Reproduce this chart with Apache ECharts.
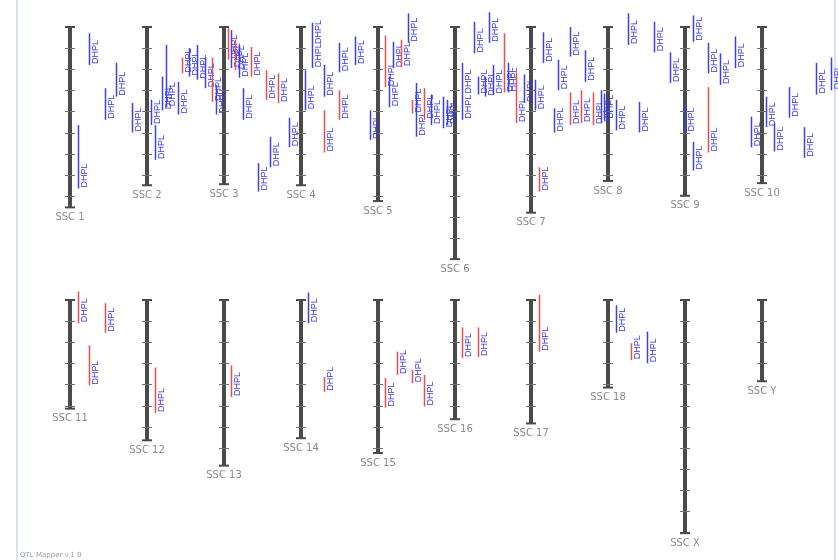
<!DOCTYPE html>
<html>
<head>
<meta charset="utf-8">
<title>DHPL QTL map</title>
<script src="https://cdn.jsdelivr.net/npm/echarts@6/dist/echarts.min.js"></script>
<style>
html, body { margin: 0; padding: 0; background: #fff; }
#qtl-map { width: 838px; height: 560px; }
</style>
</head>
<body>
<div id="qtl-map"></div>
<script>
// chromosomes (two rows of ten), lengths in cM
var chromNames = ['SSC 1', 'SSC 2', 'SSC 3', 'SSC 4', 'SSC 5', 'SSC 6', 'SSC 7', 'SSC 8', 'SSC 9', 'SSC 10',
    'SSC 11', 'SSC 12', 'SSC 13', 'SSC 14', 'SSC 15', 'SSC 16', 'SSC 17', 'SSC 18', 'SSC X', 'SSC Y'];
var chromLengths = [171, 150, 149, 150, 165, 220, 176, 146, 160, 148,
    103, 133, 157, 131, 145, 113, 117, 83, 221, 77];
var tickStep = 20;

// DHPL QTL: [chromosome, start cM, end cM, bar colour (B/R), track]
var qtlLabel = 'DHPL';
var qtlRows = [
    [0, 6, 36, 'B', 5], [0, 58, 88, 'B', 9], [0, 34, 66, 'B', 12], [0, 93, 153, 'B', 2], [0, 72, 100, 'B', 16],
    [1, 69, 93, 'B', 1], [1, 93, 126, 'B', 2], [1, 47, 79, 'B', 4], [1, 17, 76, 'B', 5], [1, 52, 83, 'B', 8],
    [1, 29, 44, 'R', 9], [1, 20, 47, 'B', 11], [1, 17, 50, 'B', 13], [1, 29, 58, 'B', 15], [1, 29, 71, 'R', 17],
    [1, 55, 83, 'B', 18],
    [2, 1, 31, 'R', 1], [2, 3, 39, 'B', 2], [2, 12, 41, 'R', 3], [2, 17, 48, 'B', 4], [2, 58, 88, 'B', 5],
    [2, 19, 47, 'R', 7], [2, 129, 156, 'B', 9], [2, 41, 69, 'R', 11], [2, 104, 133, 'B', 12], [2, 44, 72, 'R', 14],
    [2, 86, 114, 'B', 17],
    [3, 41, 79, 'B', 1], [3, -4, 17, 'B', 3], [3, 17, 39, 'B', 3], [3, 36, 66, 'B', 6], [3, 79, 119, 'R', 6],
    [3, 15, 43, 'B', 10], [3, 60, 88, 'R', 10], [3, 9, 36, 'B', 14], [3, 79, 107, 'B', 18],
    [4, 8, 57, 'R', 2], [4, 47, 76, 'B', 3], [4, 14, 39, 'B', 4], [4, 12, 38, 'R', 6], [4, -13, 15, 'B', 8],
    [4, 69, 82, 'R', 9], [4, 53, 104, 'B', 10], [4, 58, 88, 'R', 12], [4, 64, 93, 'B', 14], [4, 66, 96, 'B', 17],
    [4, 69, 93, 'B', 18],
    [5, 34, 64, 'B', 2], [5, 64, 88, 'B', 2], [5, -5, 25, 'B', 5], [5, 47, 64, 'B', 6], [5, 47, 66, 'B', 8],
    [5, -14, 15, 'B', 9], [5, 36, 64, 'B', 10], [5, 6, 62, 'R', 13], [5, 34, 62, 'B', 14], [5, 43, 91, 'R', 16],
    [5, 45, 72, 'B', 18],
    [6, 50, 79, 'B', 1], [6, 133, 156, 'R', 2], [6, 5, 34, 'B', 3], [6, 77, 100, 'B', 6], [6, 31, 60, 'B', 7],
    [6, 62, 93, 'R', 10], [6, 0, 28, 'B', 10], [6, 60, 91, 'R', 13], [6, 22, 52, 'B', 14], [6, 62, 93, 'R', 16],
    [6, 60, 91, 'B', 18], [6, 63, 88, 'B', 19],
    [7, 69, 98, 'B', 2], [7, -13, 17, 'B', 5], [7, 71, 100, 'B', 8], [7, -5, 24, 'B', 12], [7, 24, 53, 'B', 16],
    [8, 72, 100, 'B', 0], [8, -11, 14, 'B', 2], [8, 109, 136, 'B', 2], [8, 57, 119, 'R', 6], [8, 15, 44, 'B', 6],
    [8, 25, 55, 'B', 9], [8, 9, 39, 'B', 13], [8, 85, 114, 'B', 17],
    [9, 66, 95, 'B', 1], [9, 91, 118, 'B', 3], [9, 57, 86, 'B', 7], [9, 95, 124, 'B', 11], [9, 34, 64, 'B', 14],
    [9, 29, 60, 'B', 18],
    [10, -8, 22, 'R', 2], [10, 43, 81, 'R', 5], [10, 3, 31, 'R', 9],
    [11, 64, 107, 'R', 2],
    [12, 62, 92, 'R', 2],
    [13, -7, 22, 'B', 2], [13, 73, 87, 'R', 6],
    [14, 74, 102, 'R', 2], [14, 49, 71, 'R', 5], [14, 66, 79, 'R', 9], [14, 71, 101, 'R', 12],
    [15, 26, 55, 'R', 2], [15, 26, 54, 'R', 6],
    [16, -5, 49, 'R', 2],
    [17, 5, 31, 'B', 2], [17, 41, 57, 'R', 6], [17, 30, 60, 'B', 10]
];

var barColors = { B: '#3d3df2', R: '#f04a4a' };
var textBlue = '#3535ee';
var trackWidth = 0.05; // one track = 1/20 of the column spacing

function chromData(row) {
    var out = [];
    for (var i = row * 10; i < row * 10 + 10; i++) {
        out.push([i % 10, chromLengths[i], i]);
    }
    return out;
}

function qtlData(row) {
    var out = [];
    qtlRows.forEach(function (q) {
        if (Math.floor(q[0] / 10) === row) {
            out.push([q[0] % 10, q[1], q[2], q[3] === 'R' ? 1 : 0, q[4]]);
        }
    });
    return out;
}

function renderChrom(params, api) {
    var col = api.value(0);
    var len = api.value(1);
    var name = chromNames[api.value(2)];
    var top = api.coord([col, 0]);
    var bot = api.coord([col, len]);
    var x = Math.round(top[0]);
    var kids = [];
    kids.push({
        type: 'rect',
        shape: { x: x - 2, y: top[1], width: 4, height: bot[1] - top[1] },
        style: { fill: '#4a4a4a' }
    });
    for (var t = tickStep; t < len; t += tickStep) {
        var ty = Math.round(api.coord([col, t])[1]) + 0.5;
        kids.push({
            type: 'line',
            shape: { x1: x - 5, y1: ty, x2: x + 5, y2: ty },
            style: { stroke: '#707070', lineWidth: 1 }
        });
    }
    [top[1], bot[1]].forEach(function (cy) {
        kids.push({
            type: 'line',
            shape: { x1: x - 5, y1: cy, x2: x + 5, y2: cy },
            style: { stroke: '#4a4a4a', lineWidth: 2 }
        });
    });
    kids.push({
        type: 'text',
        x: x,
        y: bot[1] + 5,
        style: {
            text: name, fill: '#8a8a8a', font: '10px "DejaVu Sans"',
            align: 'center', verticalAlign: 'top'
        }
    });
    return { type: 'group', children: kids };
}

function renderQtl(params, api) {
    var xPos = api.value(0) + api.value(4) * trackWidth;
    var p1 = api.coord([xPos, api.value(1)]);
    var p2 = api.coord([xPos, api.value(2)]);
    var x = Math.round(p1[0]) + 0.5;
    var color = api.value(3) === 1 ? barColors.R : barColors.B;
    return {
        type: 'group',
        children: [{
            type: 'line',
            shape: { x1: x, y1: p1[1], x2: x, y2: p2[1] },
            style: { stroke: color, lineWidth: 1.5 }
        }, {
            type: 'text',
            x: x + 1.5,
            y: p2[1] - 1,
            rotation: Math.PI / 2,
            style: {
                text: qtlLabel, fill: textBlue, font: '9px "Liberation Sans"',
                align: 'left', verticalAlign: 'top'
            }
        }]
    };
}

var myChart = echarts.init(document.getElementById('qtl-map'));

var grids = [0, 1].map(function (r) {
    return { left: 31.55, width: 769, top: r === 0 ? 27 : 300, height: 253.2 };
});
var xAxes = [0, 1].map(function (r) {
    return { type: 'value', gridIndex: r, min: -0.5, max: 9.5, show: false };
});
var yAxes = [0, 1].map(function (r) {
    return { type: 'value', gridIndex: r, min: 0, max: 240, inverse: true, show: false };
});

var series = [];
[0, 1].forEach(function (r) {
    series.push({
        type: 'custom',
        xAxisIndex: r,
        yAxisIndex: r,
        renderItem: renderChrom,
        data: chromData(r),
        encode: { x: 0, y: 1 },
        silent: true,
        z: 1
    });
});
[0, 1].forEach(function (r) {
    series.push({
        type: 'custom',
        xAxisIndex: r,
        yAxisIndex: r,
        renderItem: renderQtl,
        data: qtlData(r),
        encode: { x: 0, y: [1, 2] },
        silent: true,
        z: 2
    });
});

myChart.setOption({
    animation: false,
    backgroundColor: '#ffffff',
    grid: grids,
    xAxis: xAxes,
    yAxis: yAxes,
    series: series,
    graphic: [{
        type: 'line',
        shape: { x1: 17, y1: 0, x2: 17, y2: 560 },
        style: { stroke: '#d5e3f1', lineWidth: 2 }
    }, {
        type: 'line',
        shape: { x1: 835, y1: 0, x2: 835, y2: 560 },
        style: { stroke: '#d5e3f1', lineWidth: 2 }
    }, {
        type: 'text',
        left: 20,
        top: 552,
        style: { text: 'QTL Mapper v.1.0', fill: '#93a0ad', font: '7px "DejaVu Sans"' }
    }]
});
</script>
</body>
</html>
